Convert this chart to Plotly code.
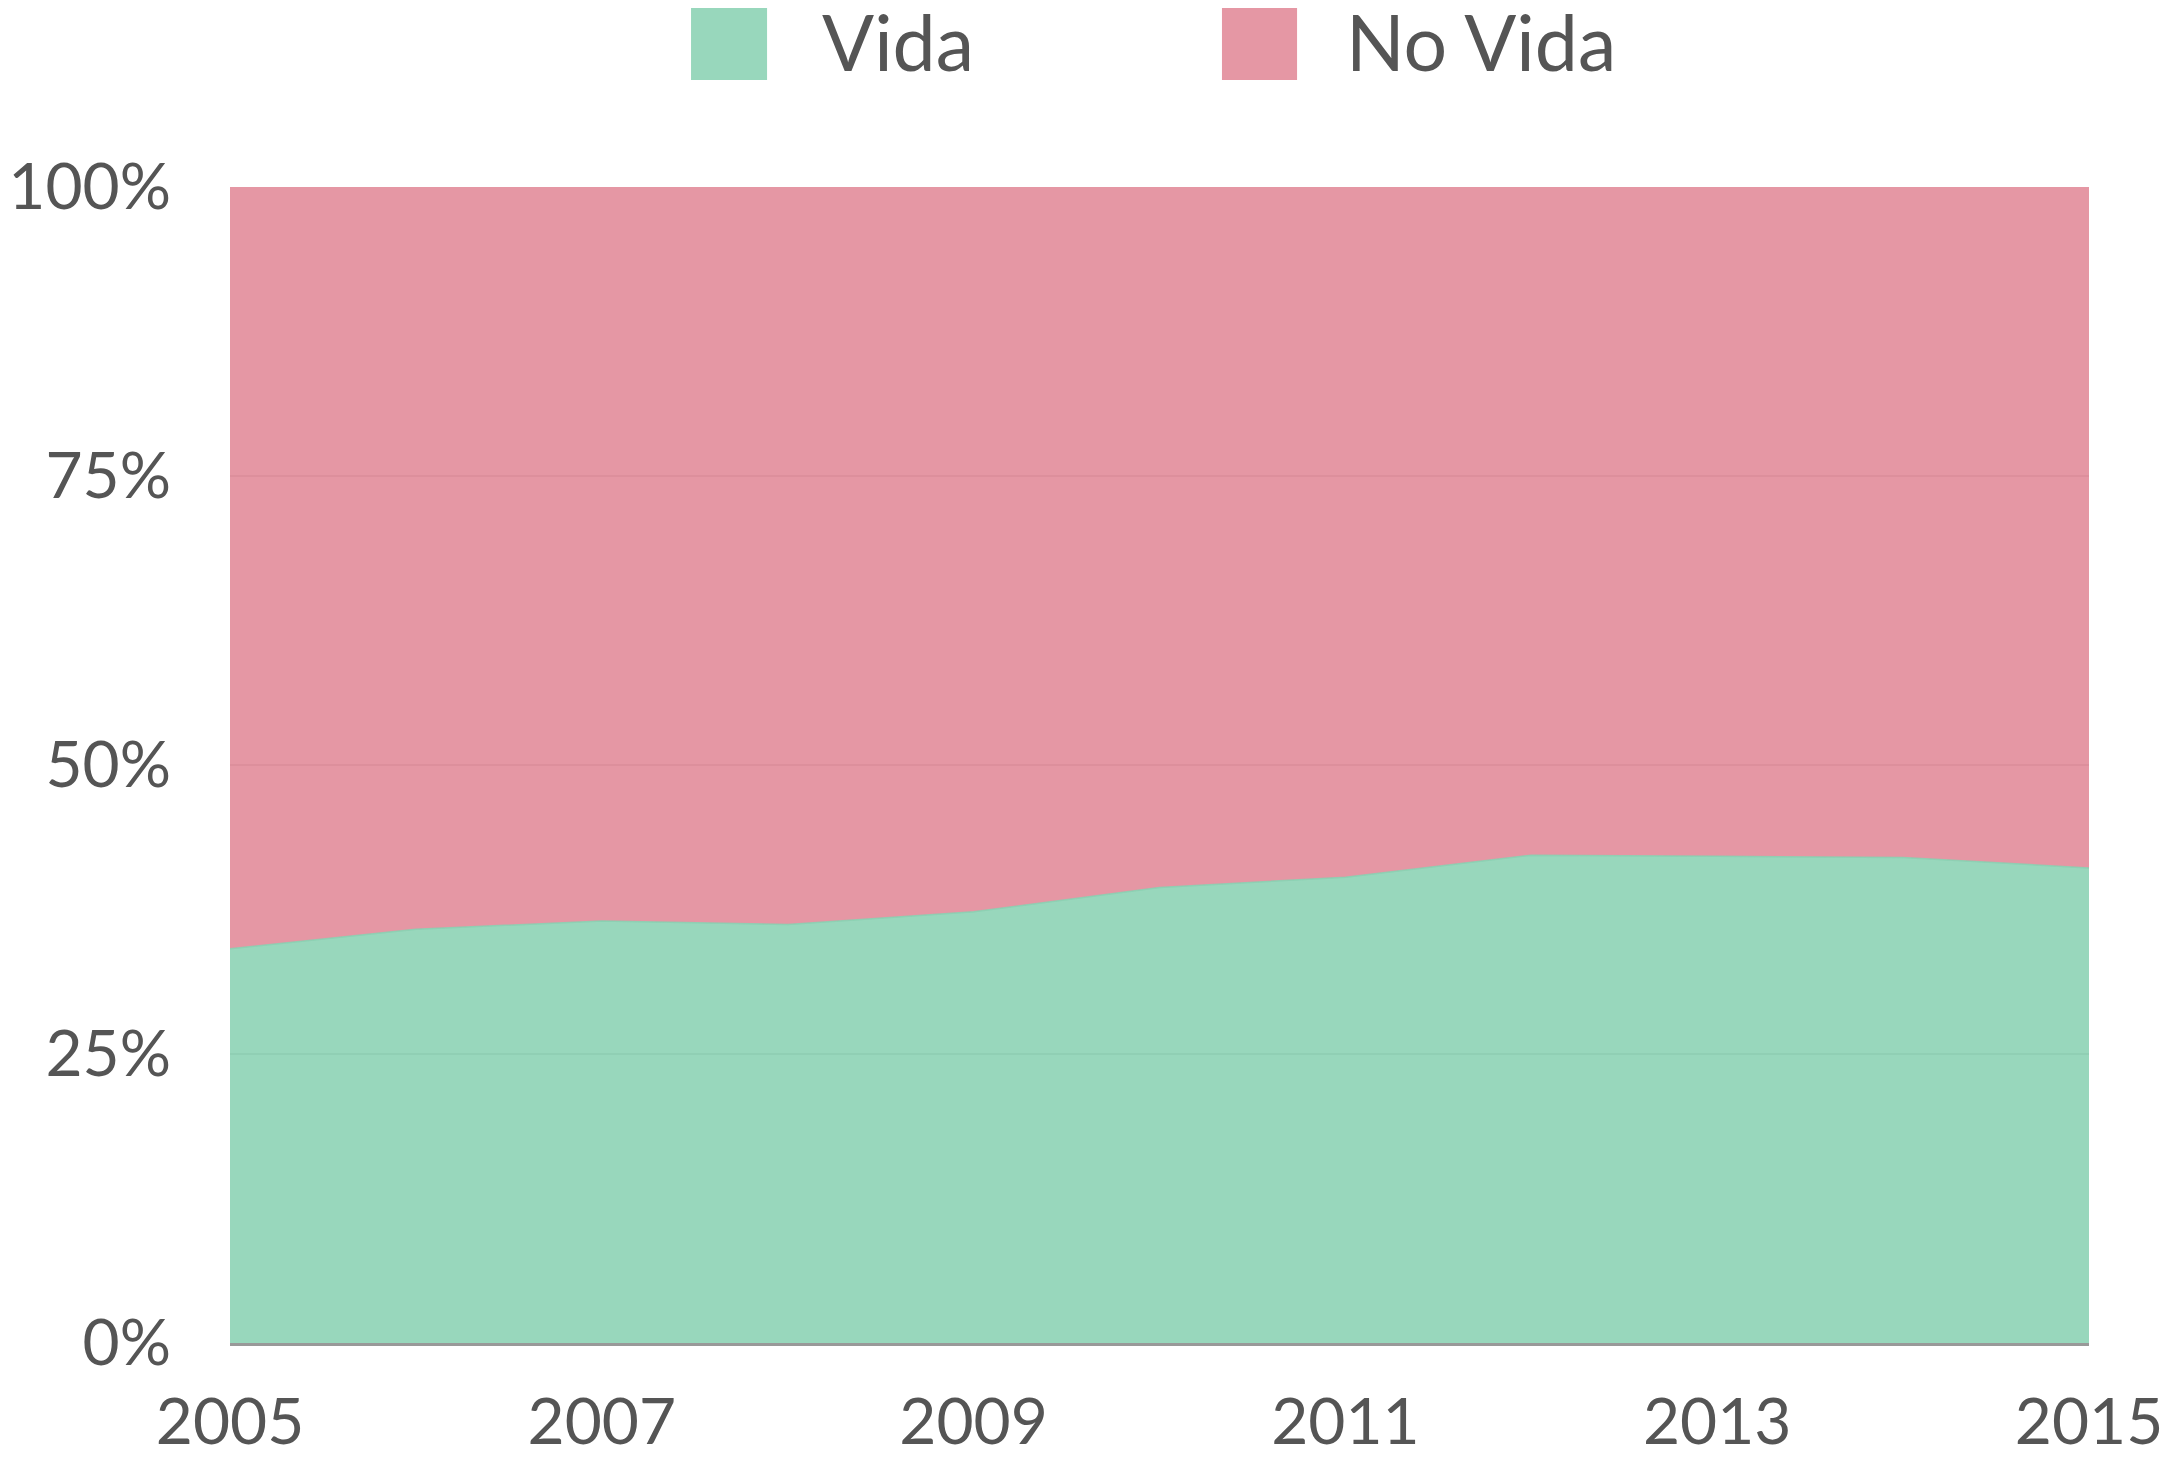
import plotly.graph_objects as go

years = [2005, 2006, 2007, 2008, 2009, 2010, 2011, 2012, 2013, 2014, 2015]
vida = [34.1, 35.8, 36.5, 36.2, 37.3, 39.4, 40.3, 42.2, 42.1, 42.0, 41.1]
no_vida = [round(100 - v, 1) for v in vida]
series_names = ["Vida", "No Vida"]
y_tick_vals = [0, 25, 50, 75, 100]
y_tick_text = ["0%", "25%", "50%", "75%", "100%"]
x_tick_vals = [2005, 2007, 2009, 2011, 2013, 2015]

GREEN = "rgba(134,208,176,0.85)"
PINK = "rgba(224,133,148,0.85)"
GREEN_SOLID = "#98D7BC"
PINK_SOLID = "#E597A4"
TEXT = "#555555"
FONT = "Lato"

fig = go.Figure()
fig.add_trace(go.Scatter(x=years, y=vida, name=series_names[0], stackgroup="one",
                         mode="lines", line=dict(width=1.5, color=GREEN), fillcolor=GREEN,
                         showlegend=False))
fig.add_trace(go.Scatter(x=years, y=no_vida, name=series_names[1], stackgroup="one",
                         mode="lines", line=dict(width=0, color=PINK), fillcolor=PINK,
                         showlegend=False))

# custom legend (large swatches)
legend_items = [
    (series_names[0], GREEN_SOLID, 0.248, 0.2889, 0.3174),
    (series_names[1], PINK_SOLID, 0.5336, 0.574, 0.5993),
]
for name, col, x0, x1, xt in legend_items:
    fig.add_shape(type="rect", xref="paper", yref="paper", x0=x0, x1=x1, y0=1.0926, y1=1.157,
                  fillcolor=col, line=dict(width=0))
    fig.add_annotation(text=name, xref="paper", yref="paper", x=xt, y=1.1264,
                       xanchor="left", yanchor="middle", showarrow=False,
                       font=dict(family=FONT, size=77, color=TEXT))

fig.update_layout(
    width=2160, height=1453,
    margin=dict(l=222, r=79, t=179, b=118),
    paper_bgcolor="white", plot_bgcolor="white",
    font=dict(family=FONT, size=64, color=TEXT),
    showlegend=False,
)
fig.update_xaxes(range=[2005, 2015], tickvals=x_tick_vals, showgrid=False, zeroline=False,
                 showline=True, linecolor="#999999", linewidth=3, ticks="", automargin=False,
                 ticklabelstandoff=21, tickfont=dict(size=64, color=TEXT))
fig.update_yaxes(range=[0, 100], tickvals=y_tick_vals, ticktext=y_tick_text, showgrid=True,
                 gridcolor="#c8c8c8", gridwidth=1.5, zeroline=False, showline=False, automargin=False,
                 ticks="", ticklabelstandoff=58, tickfont=dict(size=64, color=TEXT))

fig.write_html("out.html")
